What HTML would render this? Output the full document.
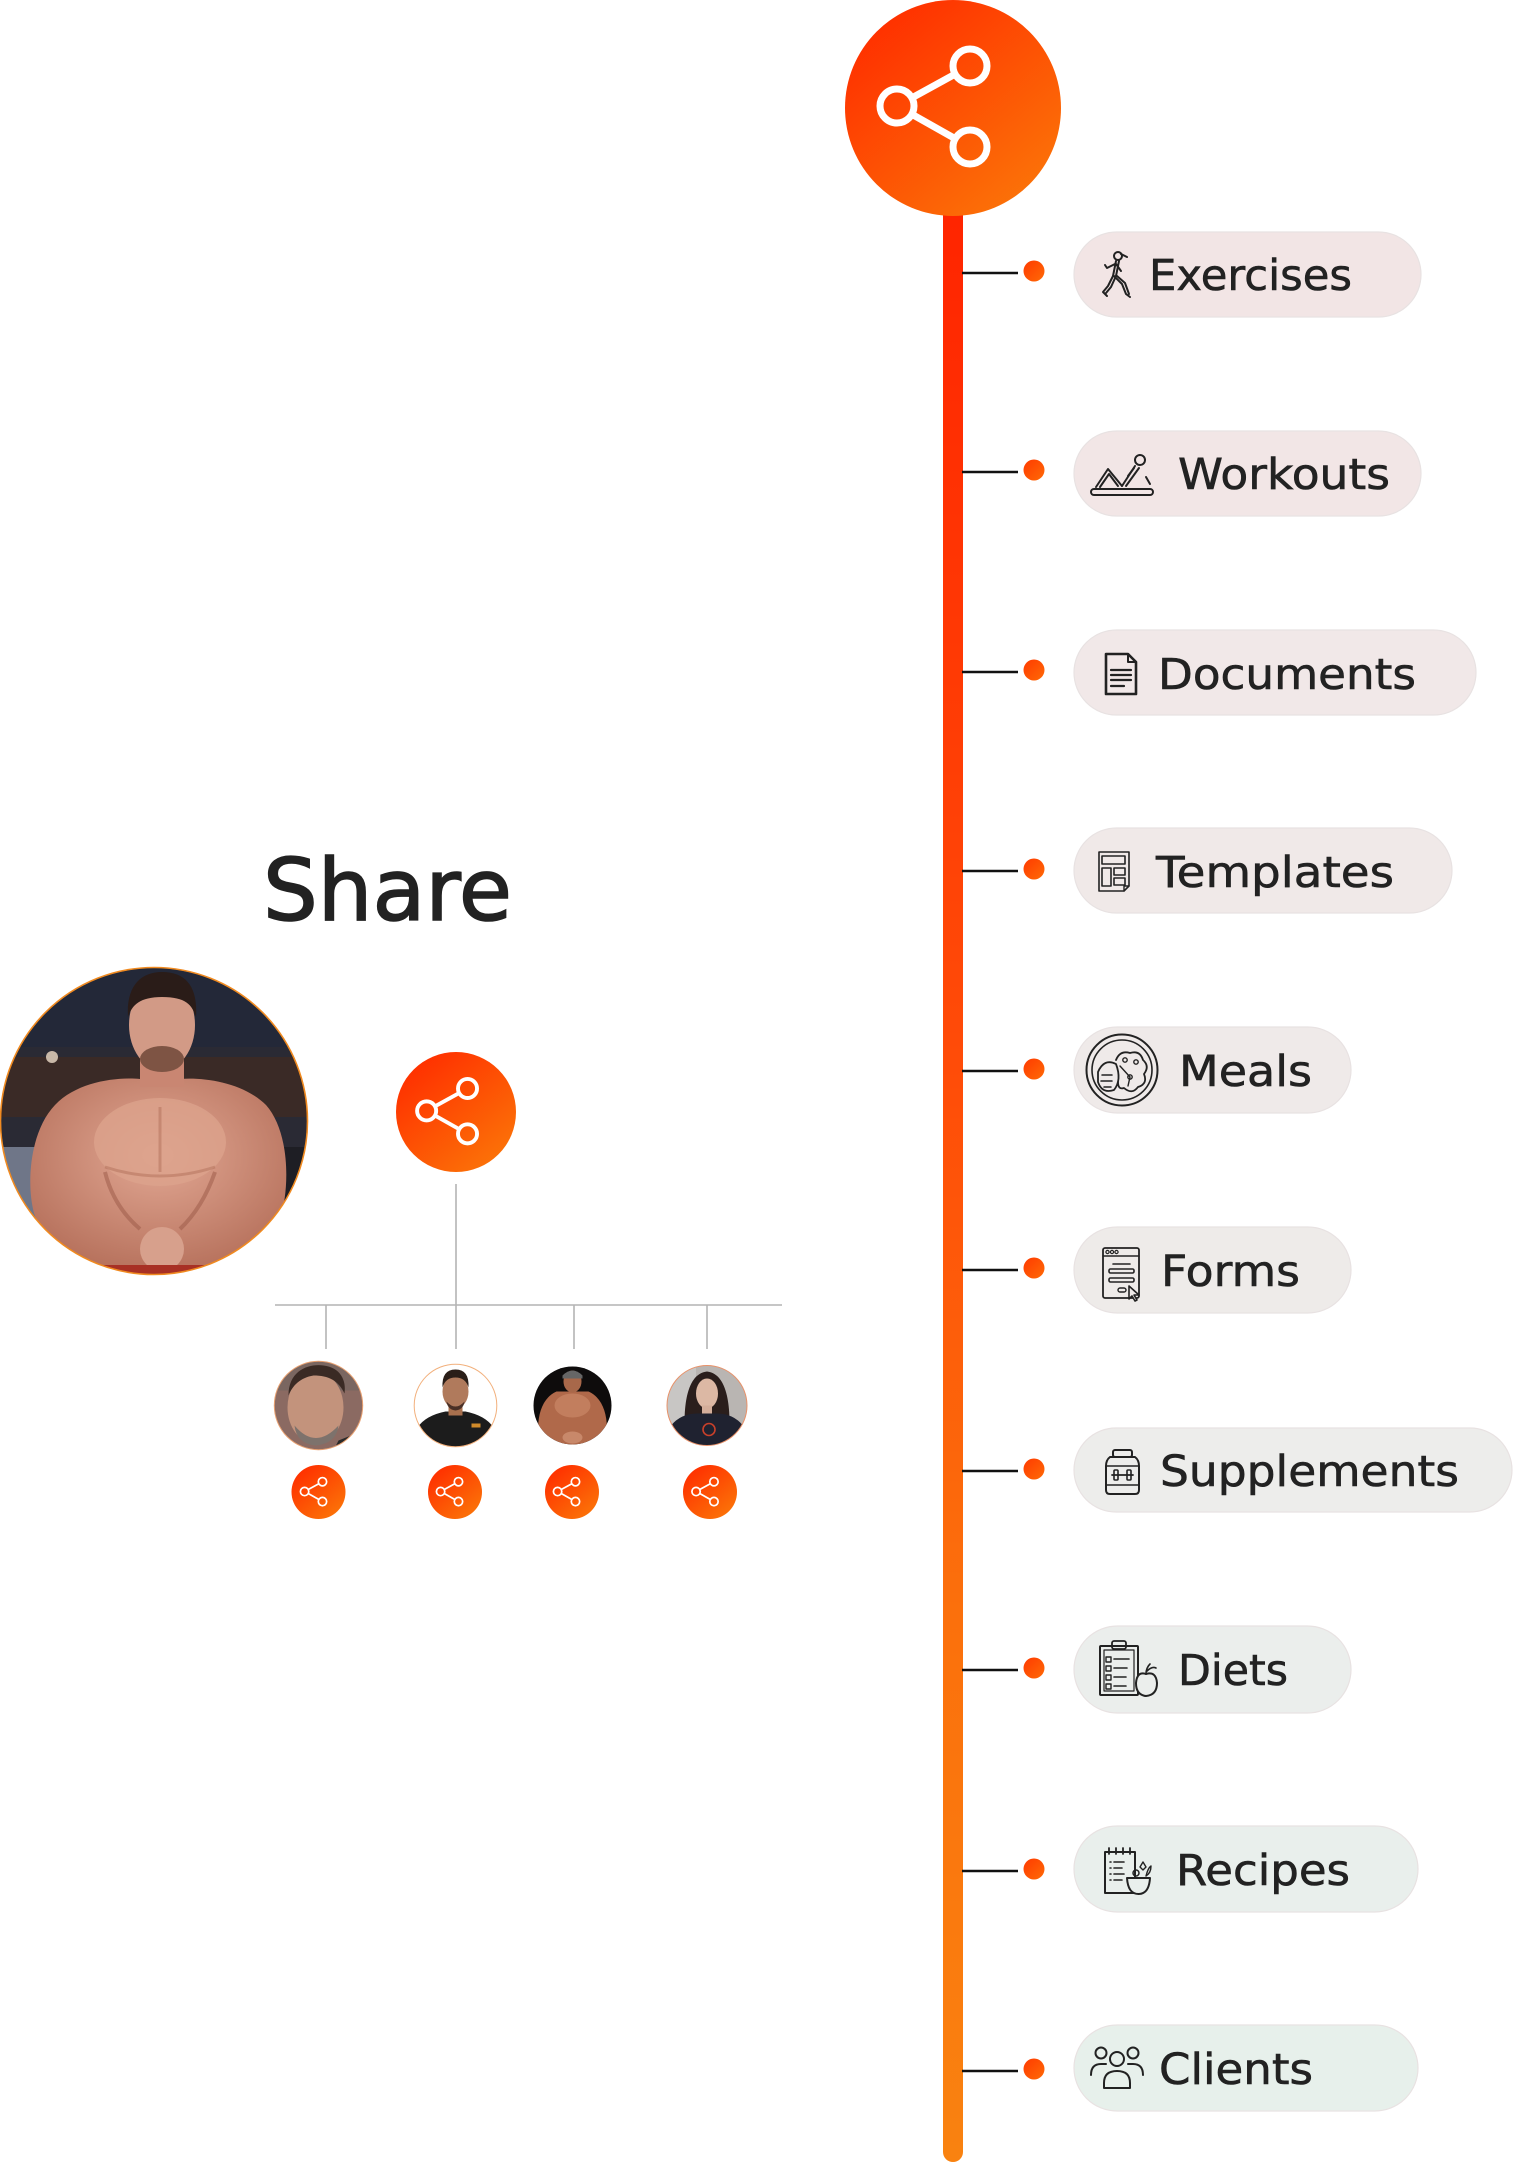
<!DOCTYPE html>
<html>
<head>
<meta charset="utf-8">
<style>
html,body{margin:0;padding:0;background:#fff;}
body{width:1514px;height:2162px;overflow:hidden;position:relative;}
svg{position:absolute;left:0;top:0;display:block;}
.t{font-family:"DejaVu Sans","Liberation Sans",sans-serif;fill:#222;stroke:#222;stroke-width:0.6;}
</style>
</head>
<body>
<svg width="1514" height="2162" viewBox="0 0 1514 2162" xmlns="http://www.w3.org/2000/svg">
<defs>
  <linearGradient id="bar" x1="0" y1="200" x2="0" y2="2162" gradientUnits="userSpaceOnUse">
    <stop offset="0" stop-color="#ff2400"/>
    <stop offset="0.45" stop-color="#ff4d08"/>
    <stop offset="0.72" stop-color="#fb700c"/>
    <stop offset="1" stop-color="#f98210"/>
  </linearGradient>
  <linearGradient id="og" x1="0.15" y1="0.1" x2="0.85" y2="0.95">
    <stop offset="0" stop-color="#ff3000"/>
    <stop offset="1" stop-color="#fb7408"/>
  </linearGradient>
  <linearGradient id="dot" x1="0" y1="0" x2="1" y2="1">
    <stop offset="0" stop-color="#ff3a00"/>
    <stop offset="1" stop-color="#ff6a06"/>
  </linearGradient>
  <g id="shr" fill="none" stroke="#fff" stroke-width="7">
    <circle cx="-56" cy="-2" r="17"/>
    <circle cx="17" cy="-42" r="17"/>
    <circle cx="17" cy="39" r="17"/>
    <line x1="-41" y1="-10.2" x2="2" y2="-33.8"/>
    <line x1="-41" y1="6.3" x2="2.2" y2="30.7"/>
  </g>
  <clipPath id="cbig"><circle cx="154" cy="154" r="153"/></clipPath>
  <clipPath id="ca1"><circle cx="0" cy="0" r="44"/></clipPath>
  <clipPath id="ca2"><circle cx="0" cy="0" r="41"/></clipPath>
  <clipPath id="ca3"><circle cx="0" cy="0" r="39"/></clipPath>
  <clipPath id="ca4"><circle cx="0" cy="0" r="40"/></clipPath>
  <radialGradient id="skin" cx="0.5" cy="0.4" r="0.6">
    <stop offset="0" stop-color="#e2a894"/>
    <stop offset="1" stop-color="#b8735e"/>
  </radialGradient>
</defs>

<!-- vertical bar -->
<rect x="943" y="190" width="20" height="1972" rx="10" fill="url(#bar)"/>
<!-- top circle -->
<circle cx="953" cy="108" r="108" fill="url(#og)"/>
<use href="#shr" transform="translate(953,108)"/>

<!-- rows -->
<g stroke="#111" stroke-width="2.5">
  <line x1="962" y1="273" x2="1018" y2="273"/>
  <line x1="962" y1="472" x2="1018" y2="472"/>
  <line x1="962" y1="672" x2="1018" y2="672"/>
  <line x1="962" y1="871" x2="1018" y2="871"/>
  <line x1="962" y1="1071" x2="1018" y2="1071"/>
  <line x1="962" y1="1270" x2="1018" y2="1270"/>
  <line x1="962" y1="1471" x2="1018" y2="1471"/>
  <line x1="962" y1="1670" x2="1018" y2="1670"/>
  <line x1="962" y1="1871" x2="1018" y2="1871"/>
  <line x1="962" y1="2071" x2="1018" y2="2071"/>
</g>
<g fill="url(#dot)">
  <circle cx="1034" cy="271" r="10.5"/>
  <circle cx="1034" cy="470" r="10.5"/>
  <circle cx="1034" cy="670" r="10.5"/>
  <circle cx="1034" cy="869" r="10.5"/>
  <circle cx="1034" cy="1069" r="10.5"/>
  <circle cx="1034" cy="1268" r="10.5"/>
  <circle cx="1034" cy="1469" r="10.5"/>
  <circle cx="1034" cy="1668" r="10.5"/>
  <circle cx="1034" cy="1869" r="10.5"/>
  <circle cx="1034" cy="2069" r="10.5"/>
</g>

<!-- pills -->
<g stroke="#e8e2e2" stroke-width="1.2">
  <rect x="1074" y="232" width="347" height="85" rx="42.5" fill="#f2e5e5"/>
  <rect x="1074" y="431" width="347" height="85" rx="42.5" fill="#f2e6e6"/>
  <rect x="1074" y="630" width="402" height="85" rx="42.5" fill="#f1e8e8"/>
  <rect x="1074" y="828" width="378" height="85" rx="42.5" fill="#f0e9e8"/>
  <rect x="1074" y="1027" width="277" height="86" rx="43" fill="#efeae9"/>
  <rect x="1074" y="1227" width="277" height="86" rx="43" fill="#eeebe9"/>
  <rect x="1074" y="1428" width="438" height="84" rx="42" fill="#ededeb"/>
  <rect x="1074" y="1626" width="277" height="87" rx="43.5" fill="#ebeeec"/>
  <rect x="1074" y="1826" width="344" height="86" rx="43" fill="#e9efec"/>
  <rect x="1074" y="2025" width="344" height="86" rx="43" fill="#e7f0eb"/>
</g>

<!-- pill labels -->
<text class="t" x="1149" y="290" font-size="43" textLength="203" lengthAdjust="spacingAndGlyphs">Exercises</text>
<text class="t" x="1178" y="489" font-size="43" textLength="212" lengthAdjust="spacingAndGlyphs">Workouts</text>
<text class="t" x="1158" y="689" font-size="43" textLength="258" lengthAdjust="spacingAndGlyphs">Documents</text>
<text class="t" x="1156" y="887" font-size="43" textLength="238" lengthAdjust="spacingAndGlyphs">Templates</text>
<text class="t" x="1179" y="1086" font-size="43" textLength="133" lengthAdjust="spacingAndGlyphs">Meals</text>
<text class="t" x="1161" y="1286" font-size="43" textLength="139" lengthAdjust="spacingAndGlyphs">Forms</text>
<text class="t" x="1160" y="1486" font-size="43" textLength="299" lengthAdjust="spacingAndGlyphs">Supplements</text>
<text class="t" x="1178" y="1685" font-size="43" textLength="110" lengthAdjust="spacingAndGlyphs">Diets</text>
<text class="t" x="1176" y="1885" font-size="43" textLength="174" lengthAdjust="spacingAndGlyphs">Recipes</text>
<text class="t" x="1159" y="2084" font-size="43" textLength="154" lengthAdjust="spacingAndGlyphs">Clients</text>

<!-- pill icons -->
<g fill="none" stroke="#222" stroke-width="2" stroke-linecap="round" stroke-linejoin="round">
  <!-- Exercises: runner -->
  <circle cx="1118" cy="256" r="4"/>
  <path d="M1121,254 L1127,257"/>
  <path d="M1116,261 L1113,276"/>
  <path d="M1119,261 L1116,276"/>
  <path d="M1115,264 L1107,268 L1105,265"/>
  <path d="M1116,264 L1121,271"/>
  <path d="M1113,276 L1108,286 L1103,292 L1107,296"/>
  <path d="M1116,276 L1111,287 L1106,293"/>
  <path d="M1114,276 L1122,284 L1126,294 L1130,297"/>
  <path d="M1117,276 L1125,283 L1129,294"/>
  <!-- Workouts: sit-up -->
  <rect x="1091" y="489" width="62" height="6" rx="3"/>
  <path d="M1096,487 L1108,469 L1122,486"/>
  <path d="M1100,487 L1109,474 L1118,486"/>
  <path d="M1122,486 L1135,466"/>
  <path d="M1126,486 L1139,468"/>
  <circle cx="1140" cy="460" r="5"/>
  <path d="M1134,468 L1128,476"/>
  <path d="M1146,477 L1150,484"/>
  <!-- Documents -->
  <path d="M1106,654 H1128 L1136,662 V694 H1106 Z" stroke-width="2.6"/>
  <path d="M1128,654 V662 H1136" stroke-width="2"/>
  <path d="M1111,670 H1131 M1111,675 H1131 M1111,680 H1131 M1111,686 H1124" stroke-width="2.2"/>
  <!-- Templates -->
  <path d="M1099,852 H1129 V886 L1124,891 H1099 Z" stroke-width="1.6"/>
  <path d="M1124,891 V886 H1129" stroke-width="1.4"/>
  <rect x="1102" y="856" width="23" height="8" stroke-width="1.6"/>
  <rect x="1102" y="868" width="9" height="18" stroke-width="1.6"/>
  <rect x="1114" y="868" width="11" height="7" stroke-width="1.6"/>
  <rect x="1114" y="878" width="11" height="7" stroke-width="1.6"/>
  <!-- Meals -->
  <circle cx="1122" cy="1070" r="35.5" stroke-width="2"/>
  <circle cx="1122" cy="1070" r="30" stroke-width="1.6"/>
  <path d="M1098,1072 Q1104,1058 1116,1064 Q1122,1080 1114,1090 Q1102,1094 1098,1082 Z" stroke-width="1.8"/>
  <path d="M1102,1075 H1112 M1101,1081 H1112 M1104,1087 H1111" stroke-width="1.5"/>
  <path d="M1116,1060 Q1120,1050 1130,1053 Q1140,1050 1143,1060 Q1150,1066 1144,1074 Q1148,1084 1138,1087 Q1132,1095 1124,1088 Q1118,1090 1118,1082" stroke-width="1.8"/>
  <circle cx="1125" cy="1060" r="2.2" stroke-width="1.4"/>
  <circle cx="1136" cy="1062" r="2.2" stroke-width="1.4"/>
  <circle cx="1130" cy="1077" r="2.2" stroke-width="1.4"/>
  <path d="M1120,1066 L1130,1077 L1128,1086" stroke-width="1.4"/>
  <!-- Forms -->
  <rect x="1103" y="1248" width="36" height="50" rx="2" stroke-width="1.8"/>
  <path d="M1103,1256 H1139" stroke-width="1.6"/>
  <circle cx="1107.5" cy="1252" r="1.6" stroke-width="1.2"/>
  <circle cx="1112" cy="1252" r="1.6" stroke-width="1.2"/>
  <circle cx="1116.5" cy="1252" r="1.6" stroke-width="1.2"/>
  <path d="M1113,1264 H1130" stroke-width="1.6"/>
  <rect x="1109" y="1269" width="25" height="4" rx="1.5" stroke-width="1.6"/>
  <rect x="1109" y="1278" width="25" height="4" rx="1.5" stroke-width="1.6"/>
  <rect x="1118" y="1288" width="8" height="4" rx="2" stroke-width="1.4"/>
  <path d="M1129,1286 L1129,1299 L1132,1296 L1135,1301 L1137,1300 L1134,1295 L1139,1295 Z" fill="#efebe9" stroke-width="1.6"/>
  <!-- Supplements -->
  <rect x="1113" y="1450" width="19" height="7" rx="2" stroke-width="2"/>
  <path d="M1110,1457 H1135 Q1139,1460 1139,1466 V1490 Q1139,1494 1135,1494 H1110 Q1106,1494 1106,1490 V1466 Q1106,1460 1110,1457 Z" stroke-width="2"/>
  <path d="M1106,1466 H1139 M1106,1485 H1139" stroke-width="1.6"/>
  <path d="M1112,1475 H1133" stroke-width="1.8"/>
  <rect x="1114" y="1470" width="4" height="10" rx="1" stroke-width="1.6"/>
  <rect x="1127" y="1470" width="4" height="10" rx="1" stroke-width="1.6"/>
  <!-- Diets -->
  <rect x="1100" y="1646" width="38" height="49" rx="1" stroke-width="2"/>
  <rect x="1104" y="1650" width="30" height="41" stroke-width="1.2"/>
  <rect x="1112" y="1641" width="14" height="8" rx="2" stroke-width="1.8"/>
  <rect x="1106" y="1657" width="5" height="5" stroke-width="1.4"/>
  <rect x="1106" y="1666" width="5" height="5" stroke-width="1.4"/>
  <rect x="1106" y="1675" width="5" height="5" stroke-width="1.4"/>
  <rect x="1106" y="1684" width="5" height="5" stroke-width="1.4"/>
  <path d="M1114,1659 H1129 M1114,1668 H1127 M1114,1677 H1126 M1114,1686 H1126" stroke-width="1.6"/>
  <path d="M1146,1674 Q1156,1671 1157,1683 Q1157,1695 1146,1696 Q1136,1695 1136,1683 Q1137,1671 1146,1674 Z" fill="#ebeeec" stroke-width="2"/>
  <path d="M1146,1674 Q1146,1668 1150,1664 M1147,1671 Q1152,1666 1156,1668" stroke-width="1.6"/>
  <!-- Recipes -->
  <path d="M1105,1852 H1135 V1893 H1105 Z" stroke-width="2"/>
  <path d="M1109,1848 V1854 M1116,1848 V1854 M1123,1848 V1854 M1130,1848 V1854" stroke-width="1.8"/>
  <path d="M1110,1862 H1111 M1110,1868 H1111 M1110,1874 H1111 M1110,1880 H1111 M1114,1862 H1124 M1114,1868 H1122 M1114,1874 H1124 M1114,1880 H1122" stroke-width="1.6"/>
  <path d="M1127,1878 H1150 Q1149,1894 1138.5,1894 Q1128,1894 1127,1878 Z" fill="#e9efec" stroke-width="2"/>
  <circle cx="1136" cy="1873" r="3" stroke-width="1.5"/>
  <path d="M1140,1867 L1143,1862 L1146,1867 L1143,1870 Z M1146,1876 Q1148,1868 1151,1866 Q1151,1873 1146,1876" stroke-width="1.4"/>
  <!-- Clients -->
  <circle cx="1117" cy="2059" r="7"/>
  <path d="M1104,2088 V2083 Q1104,2071 1117,2071 Q1130,2071 1130,2083 V2088 Z"/>
  <circle cx="1101" cy="2053" r="5.5"/>
  <path d="M1091,2075 Q1091,2064 1101,2064 H1106"/>
  <circle cx="1133" cy="2053" r="5.5"/>
  <path d="M1143,2075 Q1143,2064 1133,2064 H1128"/>
</g>

<!-- Left section -->
<text class="t" x="263" y="920" font-size="86" textLength="249" lengthAdjust="spacingAndGlyphs" style="stroke-width:1.6">Share</text>

<!-- Big photo -->
<g transform="translate(0,967)">
  <g clip-path="url(#cbig)">
    <rect x="0" y="0" width="308" height="308" fill="#2a2a34"/>
    <rect x="0" y="0" width="308" height="80" fill="#232838"/>
    <rect x="0" y="90" width="308" height="60" fill="#3a2a26"/>
    <rect x="0" y="180" width="40" height="90" fill="#6f7688"/>
    <rect x="250" y="180" width="58" height="110" fill="#1e1e24"/>
    <circle cx="52" cy="90" r="6" fill="#c8b8a8"/>
    <!-- torso & arms -->
    <path d="M55,138 C78,114 118,110 140,112 L180,112 C205,110 244,116 266,138 C290,165 290,222 280,252 C270,276 248,292 216,304 L100,304 C68,294 42,272 34,246 C26,216 30,164 55,138 Z" fill="url(#skin)"/>
    <ellipse cx="160" cy="175" rx="66" ry="44" fill="#dca28c" opacity="0.8"/>
    <path d="M105,205 C110,225 120,245 140,262 M215,205 C208,225 198,245 180,262" stroke="#9a5846" stroke-width="4" fill="none" opacity="0.5"/>
    <path d="M160,140 L160,205" stroke="#a8644e" stroke-width="3" opacity="0.4"/>
    <path d="M105,200 Q160,218 215,200" stroke="#a8644e" stroke-width="3" fill="none" opacity="0.4"/>
    <!-- neck -->
    <rect x="140" y="80" width="44" height="40" fill="#c98672"/>
    <!-- head -->
    <ellipse cx="162" cy="58" rx="33" ry="45" fill="#d29a86"/>
    <path d="M128,50 C126,20 140,5 162,5 C186,5 198,20 196,50 C192,38 186,30 162,30 C140,30 132,38 128,50 Z" fill="#2a1c18"/>
    <ellipse cx="162" cy="92" rx="22" ry="13" fill="#7e5444"/>
    <!-- hands -->
    <ellipse cx="162" cy="282" rx="22" ry="22" fill="#d7a08c"/>
    <rect x="100" y="298" width="116" height="12" fill="#a83024"/>
  </g>
  <circle cx="154" cy="154" r="153.5" fill="none" stroke="#f08a20" stroke-width="1.6"/>
</g>

<!-- medium share circle -->
<circle cx="456" cy="1112" r="60" fill="url(#og)"/>
<use href="#shr" transform="translate(458,1112) scale(0.56)"/>

<!-- gray tree lines -->
<g stroke="#b4b4b4" stroke-width="1.6">
  <line x1="456" y1="1184" x2="456" y2="1349"/>
  <line x1="275" y1="1305" x2="782" y2="1305"/>
  <line x1="326" y1="1305" x2="326" y2="1349"/>
  <line x1="574" y1="1305" x2="574" y2="1349"/>
  <line x1="707" y1="1305" x2="707" y2="1349"/>
</g>

<!-- avatar 1 -->
<g transform="translate(318.5,1405.5)">
  <g clip-path="url(#ca1)">
    <rect x="-45" y="-45" width="90" height="90" fill="#8b6a62"/>
    <rect x="-45" y="-45" width="90" height="30" fill="#7a6660"/>
    <ellipse cx="-3" cy="2" rx="28" ry="36" fill="#c3937c"/>
    <path d="M-30,-10 C-30,-35 -10,-42 5,-40 C22,-38 28,-25 26,-12 C20,-25 10,-30 -5,-30 C-18,-28 -26,-20 -30,-10 Z" fill="#3a2a24"/>
    <path d="M-24,20 Q-3,45 20,20 Q18,38 -3,40 Q-22,38 -24,20 Z" fill="#7d726c"/>
    <path d="M-45,30 L-25,38 L-10,45 L-45,45 Z" fill="#222"/>
    <path d="M20,35 L45,25 L45,45 L15,45 Z" fill="#2a2a2a"/>
  </g>
  <circle r="44.2" fill="none" stroke="#e8a070" stroke-width="1"/>
</g>

<!-- avatar 2 -->
<g transform="translate(455.5,1405.5)">
  <g clip-path="url(#ca2)">
    <rect x="-42" y="-42" width="84" height="84" fill="#fff"/>
    <path d="M-40,42 L-38,22 Q-30,10 -10,6 L10,6 Q30,10 38,22 L40,42 Z" fill="#1c1c1c"/>
    <rect x="-7" y="-4" width="14" height="14" fill="#a8704e"/>
    <ellipse cx="0" cy="-14" rx="13" ry="17" fill="#b07a5c"/>
    <path d="M-13,-18 Q-14,-36 0,-36 Q14,-36 13,-18 Q10,-28 0,-28 Q-10,-28 -13,-18 Z" fill="#2a1e18"/>
    <path d="M-9,-4 Q0,6 9,-4 Q8,4 0,5 Q-8,4 -9,-4 Z" fill="#4a3026"/>
    <rect x="16" y="18" width="9" height="4" fill="#d08a2a"/>
  </g>
  <circle r="41.3" fill="none" stroke="#f2b07c" stroke-width="1"/>
</g>

<!-- avatar 3 -->
<g transform="translate(572.5,1405.5)">
  <g clip-path="url(#ca3)">
    <rect x="-40" y="-40" width="80" height="80" fill="#0e0c0c"/>
    <path d="M-34,30 C-36,10 -30,-8 -16,-14 L16,-14 C30,-8 36,10 34,30 C28,38 20,40 10,40 L-10,40 C-20,40 -28,38 -34,30 Z" fill="#b0694a"/>
    <ellipse cx="0" cy="0" rx="18" ry="12" fill="#c27e5e"/>
    <ellipse cx="0" cy="-24" rx="9" ry="11" fill="#a8684a"/>
    <path d="M-10,-30 Q0,-40 10,-30 L10,-27 L-10,-27 Z" fill="#666"/>
    <ellipse cx="0" cy="32" rx="10" ry="6" fill="#c8886a"/>
  </g>
</g>

<!-- avatar 4 -->
<g transform="translate(707,1405.5)">
  <g clip-path="url(#ca4)">
    <rect x="-41" y="-41" width="82" height="82" fill="#b9b5b2"/>
    <rect x="-41" y="-41" width="30" height="82" fill="#c8c6c4"/>
    <path d="M-22,30 C-24,0 -20,-32 0,-34 C20,-32 24,0 22,30 Z" fill="#2a1e1c"/>
    <ellipse cx="0" cy="-12" rx="11" ry="15" fill="#dcb8a4"/>
    <rect x="-5" y="0" width="10" height="10" fill="#d4ae9a"/>
    <path d="M-38,42 L-36,20 Q-26,8 -10,8 L10,8 Q26,8 36,20 L38,42 Z" fill="#1f2230"/>
    <circle cx="2" cy="24" r="6" fill="none" stroke="#c8402a" stroke-width="1.6"/>
  </g>
  <circle r="40" fill="none" stroke="#e8926a" stroke-width="1"/>
</g>

<!-- small share circles -->
<circle cx="318.5" cy="1492" r="27" fill="url(#og)"/>
<use href="#shr" transform="translate(318.3,1492) scale(0.245)"/>
<circle cx="455" cy="1492" r="27" fill="url(#og)"/>
<use href="#shr" transform="translate(454.3,1492) scale(0.245)"/>
<circle cx="572" cy="1492" r="27" fill="url(#og)"/>
<use href="#shr" transform="translate(571.3,1492) scale(0.245)"/>
<circle cx="710" cy="1492" r="27" fill="url(#og)"/>
<use href="#shr" transform="translate(709.8,1492) scale(0.245)"/>
</svg>
</body>
</html>
